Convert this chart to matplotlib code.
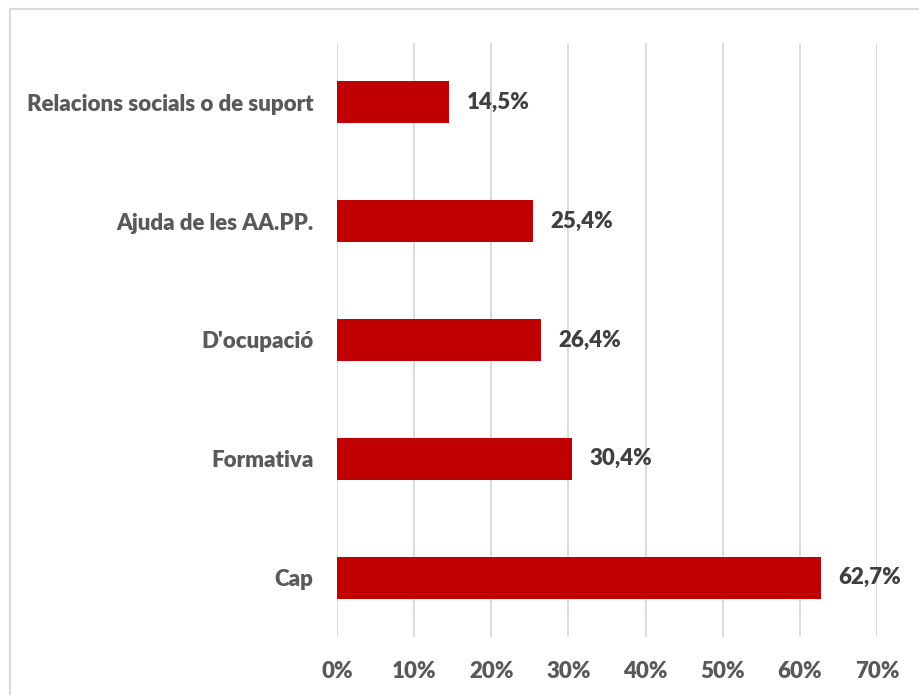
import matplotlib
matplotlib.use("Agg")
from matplotlib import pyplot as plt
from matplotlib.patches import Rectangle

# dades
categories = ["Cap", "Formativa", "D'ocupació", "Ajuda de les AA.PP.", "Relacions socials o de suport"]
values = [62.7, 30.4, 26.4, 25.4, 14.5]
xticks = [0, 10, 20, 30, 40, 50, 60, 70]
xtick_labels = ["0%", "10%", "20%", "30%", "40%", "50%", "60%", "70%"]

plt.rcParams["font.family"] = ["Lato", "DejaVu Sans"]

fig = plt.figure(figsize=(9.2, 6.95), dpi=100)
ax = fig.add_axes([337/920, 1-637/695, 540/920, 594/695])

# marc exterior
fig.patches.append(Rectangle((10/920, -0.01), 1.0, 1-9/695+0.01, transform=fig.transFigure,
                             fill=False, edgecolor="#D9D9D9", linewidth=1.5))

ypos = list(range(len(categories)))
ax.barh(ypos, values, height=0.355, color="#C00000", zorder=3)

for y, v in zip(ypos, values):
    ax.text(v + 2.3, y, ("%.1f%%" % v).replace(".", ","), va="center", ha="left",
            fontsize=16, fontweight="heavy", color="#404040")

ax.set_xlim(0, 70)
ax.set_ylim(-0.5, 4.5)
ax.set_xticks(xticks)
ax.set_xticklabels(xtick_labels)
ax.set_yticks(ypos)
ax.set_yticklabels(categories)
ax.grid(axis="x", color="#D9D9D9", linewidth=1.3, zorder=0)
for s in ax.spines.values():
    s.set_visible(False)
ax.tick_params(axis="both", length=0, labelsize=16, labelcolor="#595959")
ax.tick_params(axis="x", pad=17)
ax.tick_params(axis="y", pad=17)
for lab in ax.get_xticklabels() + ax.get_yticklabels():
    lab.set_fontweight("heavy")

fig.savefig("out.png", dpi=100)
